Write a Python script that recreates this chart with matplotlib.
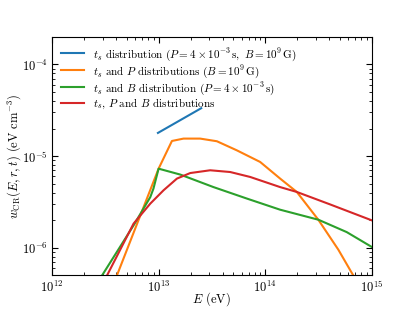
import matplotlib
matplotlib.use("Agg")
import matplotlib.pyplot as plt

plt.rcParams['mathtext.fontset'] = 'cm'
plt.rcParams['font.family'] = 'serif'
plt.rcParams['font.serif'] = ['cmr10', 'DejaVu Serif']
plt.rcParams['axes.formatter.use_mathtext'] = True
plt.rcParams['axes.unicode_minus'] = False

# t_s distribution only
E_blue = [9.86e12, 2.51e13]
w_blue = [1.79e-5, 3.33e-5]

# t_s and P distributions
E_orange = [3.98e12, 1.0e13, 1.334e13, 1.714e13, 2.455e13, 3.524e13, 5.42e13,
            8.974e13, 1.38e14, 1.982e14, 3.155e14, 4.864e14, 6.714e14, 7.24e14]
w_orange = [4.68e-7, 7.29e-6, 1.462e-5, 1.552e-5, 1.552e-5, 1.452e-5, 1.156e-5,
            8.63e-6, 5.69e-6, 4.06e-6, 2.02e-6, 9.51e-7, 4.98e-7, 4.27e-7]

# t_s and B distributions
E_green = [2.82e12, 5.82e12, 8.36e12, 8.95e12, 9.64e12, 1.0e13, 1.6e13,
           3.27e13, 6.73e13, 1.38e14, 3.16e14, 5.83e14, 1.0e15]
w_green = [4.59e-7, 1.75e-6, 3.57e-6, 4.42e-6, 6.17e-6, 7.29e-6, 6.28e-6,
           4.59e-6, 3.44e-6, 2.60e-6, 2.02e-6, 1.48e-6, 1.02e-6]

# t_s, P and B distributions
E_red = [3.16e12, 5.82e12, 8.36e12, 1.112e13, 1.486e13, 1.982e13, 3.048e13,
         4.699e13, 7.228e13, 1.38e14, 1.982e14, 4.064e14, 1.0e15]
w_red = [4.57e-7, 1.83e-6, 3.03e-6, 4.23e-6, 5.68e-6, 6.53e-6, 7.0e-6,
         6.70e-6, 5.92e-6, 4.59e-6, 4.06e-6, 2.97e-6, 1.99e-6]

labels = [
    r'$t_s$ distribution ($P = 4\times10^{-3}\,\mathrm{s},\ B = 10^9\,\mathrm{G}$)',
    r'$t_s$ and $P$ distributions ($B = 10^9\,\mathrm{G}$)',
    r'$t_s$ and $B$ distribution ($P = 4\times10^{-3}\,\mathrm{s}$)',
    r'$t_s$, $P$ and $B$ distributions',
]

fig = plt.figure(figsize=(4.13, 3.10), dpi=100)
ax = fig.add_axes([0.126, 0.112, 0.774, 0.769])

ax.plot(E_blue, w_blue, color='#1f77b4', lw=1.5, label=labels[0])
ax.plot(E_orange, w_orange, color='#ff7f0e', lw=1.5, label=labels[1])
ax.plot(E_green, w_green, color='#2ca02c', lw=1.5, label=labels[2])
ax.plot(E_red, w_red, color='#d62728', lw=1.5, label=labels[3])

ax.set_xscale('log')
ax.set_yscale('log')
ax.set_xlim(1e12, 1e15)
ax.set_ylim(5e-7, 2e-4)
ax.set_xlabel(r'$E$ (eV)', fontsize=9)
ax.set_ylabel(r'$w_{\rm CR}(E,r,t)$ (eV cm$^{-3}$)', fontsize=9)
ax.xaxis.set_label_coords(0.5, -0.062)
ax.yaxis.set_label_coords(-0.09, 0.5)
ax.tick_params(which='both', direction='in', top=True, right=True, labelsize=9)
ax.tick_params(which='major', length=4, pad=3)
ax.tick_params(which='minor', length=2)

ax.legend(loc='upper left', frameon=False, fontsize=8, handlelength=2.1,
          handletextpad=0.8, labelspacing=0.0, borderaxespad=0.4)

fig.savefig('out.png', dpi=100)
